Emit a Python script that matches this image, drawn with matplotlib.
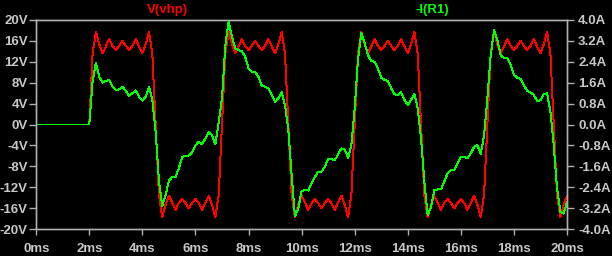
import matplotlib
matplotlib.use("Agg")
import matplotlib.pyplot as plt

# time axis in ms (simulation samples)
t_ms = [0.0,
        2.0, 2.125, 2.25, 2.375, 2.5, 2.625, 2.75, 2.875, 3.0, 3.125,
        3.25, 3.375, 3.5, 3.625, 3.75, 3.875, 4.0, 4.125, 4.25, 4.375,
        4.5, 4.625, 4.75, 4.875, 5.0, 5.125, 5.25, 5.375, 5.5, 5.625,
        5.75, 5.875, 6.0, 6.125, 6.25, 6.375, 6.5, 6.625, 6.75, 6.875,
        7.0, 7.125, 7.25, 7.375, 7.5, 7.625, 7.75, 7.875, 8.0, 8.125,
        8.25, 8.375, 8.5, 8.625, 8.75, 8.875, 9.0, 9.125, 9.25, 9.375,
        9.5, 9.625, 9.75, 9.875, 10.0, 10.125, 10.25, 10.375, 10.5, 10.625,
        10.75, 10.875, 11.0, 11.125, 11.25, 11.375, 11.5, 11.625, 11.75, 11.875,
        12.0, 12.125, 12.25, 12.375, 12.5, 12.625, 12.75, 12.875, 13.0, 13.125,
        13.25, 13.375, 13.5, 13.625, 13.75, 13.875, 14.0, 14.125, 14.25, 14.375,
        14.5, 14.625, 14.75, 14.875, 15.0, 15.125, 15.25, 15.375, 15.5, 15.625,
        15.75, 15.875, 16.0, 16.125, 16.25, 16.375, 16.5, 16.625, 16.75, 16.875,
        17.0, 17.125, 17.25, 17.375, 17.5, 17.625, 17.75, 17.875, 18.0, 18.125,
        18.25, 18.375, 18.5, 18.625, 18.75, 18.875, 19.0, 19.125, 19.25, 19.375,
        19.5, 19.625, 19.75, 19.875, 20.0]

# V(vhp) in volts
v_vhp = [0.0,
         0.0, 13.5, 17.7, 15.3, 13.6, 14.9, 16.3, 15.0, 14.2, 15.0,
         16.0, 15.0, 14.2, 15.0, 16.3, 14.9, 13.6, 15.3, 17.7, 13.5,
         0.0, -13.5, -17.7, -15.3, -13.6, -14.9, -16.3, -15.0, -14.2, -15.0,
         -16.0, -15.0, -14.2, -15.0, -16.3, -14.9, -13.6, -15.3, -17.7, -13.5,
         0.0, 13.5, 17.7, 15.3, 13.6, 14.9, 16.3, 15.0, 14.2, 15.0,
         16.0, 15.0, 14.2, 15.0, 16.3, 14.9, 13.6, 15.3, 17.7, 13.5,
         0.0, -13.5, -17.7, -15.3, -13.6, -14.9, -16.3, -15.0, -14.2, -15.0,
         -16.0, -15.0, -14.2, -15.0, -16.3, -14.9, -13.6, -15.3, -17.7, -13.5,
         0.0, 13.5, 17.7, 15.3, 13.6, 14.9, 16.3, 15.0, 14.2, 15.0,
         16.0, 15.0, 14.2, 15.0, 16.3, 14.9, 13.6, 15.3, 17.7, 13.5,
         0.0, -13.5, -17.7, -15.3, -13.6, -14.9, -16.3, -15.0, -14.2, -15.0,
         -16.0, -15.0, -14.2, -15.0, -16.3, -14.9, -13.6, -15.3, -17.7, -13.5,
         0.0, 13.5, 17.7, 15.3, 13.6, 14.9, 16.3, 15.0, 14.2, 15.0,
         16.0, 15.0, 14.2, 15.0, 16.3, 14.9, 13.6, 15.3, 17.7, 13.5,
         0.0, -13.5, -17.7, -15.3, -13.6]

# -I(R1) in amps
i_r1 = [0.0,
        0.0, 1.64, 2.36, 1.82, 1.60, 1.66, 1.70, 1.44, 1.32, 1.34,
        1.44, 1.28, 1.10, 1.19, 1.30, 1.06, 0.91, 1.06, 1.44, 0.94,
        -0.28, -2.18, -3.10, -2.70, -2.15, -2.00, -2.00, -1.67, -1.24, -1.20,
        -1.18, -1.07, -0.80, -0.66, -0.76, -0.53, -0.30, -0.40, -0.76, 0.06,
        1.00, 3.00, 3.94, 3.35, 2.90, 2.84, 2.80, 2.58, 2.14, 2.02,
        2.00, 1.82, 1.48, 1.44, 1.38, 1.13, 0.87, 1.00, 1.23, 0.74,
        -0.20, -1.93, -3.50, -3.20, -2.54, -2.50, -2.52, -2.24, -2.00, -1.80,
        -1.80, -1.61, -1.32, -1.32, -1.36, -1.14, -0.91, -0.95, -1.27, -0.80,
        0.62, 2.50, 3.48, 3.10, 2.65, 2.42, 2.40, 2.14, 1.79, 1.70,
        1.66, 1.38, 1.16, 1.12, 1.23, 0.94, 0.74, 0.94, 1.18, 0.62,
        -0.53, -2.18, -3.45, -3.15, -2.50, -2.48, -2.48, -2.18, -1.86, -1.74,
        -1.74, -1.48, -1.23, -1.23, -1.29, -1.10, -0.85, -0.78, -1.14, -0.40,
        1.00, 2.65, 3.60, 3.22, 2.65, 2.53, 2.53, 2.27, 1.89, 1.79,
        1.74, 1.50, 1.28, 1.23, 1.13, 0.90, 0.92, 1.15, 1.19, 0.49,
        -0.78, -2.43, -3.33, -3.40, -2.95]

v_ticks = [20, 16, 12, 8, 4, 0, -4, -8, -12, -16, -20]
v_labels = ['20V', '16V', '12V', '8V', '4V', '0V', '-4V', '-8V', '-12V', '-16V', '-20V']
i_ticks = [4.0, 3.2, 2.4, 1.6, 0.8, 0.0, -0.8, -1.6, -2.4, -3.2, -4.0]
i_labels = ['4.0A', '3.2A', '2.4A', '1.6A', '0.8A', '0.0A', '-0.8A', '-1.6A', '-2.4A', '-3.2A', '-4.0A']
t_ticks = [0, 2, 4, 6, 8, 10, 12, 14, 16, 18, 20]
t_labels = ['0ms', '2ms', '4ms', '6ms', '8ms', '10ms', '12ms', '14ms', '16ms', '18ms', '20ms']

W, H = 612, 256
txt = '#c8c8c8'
frame = '#b0b0b0'
font = dict(family='Liberation Sans', size=9.5, weight='bold')

fig = plt.figure(figsize=(W / 100, H / 100), dpi=100, facecolor='black')
ax = fig.add_axes([36.2 / W, 1 - 229.3 / H, (567 - 36.2) / W, (229.3 - 19.7) / H])
ax.set_facecolor('black')
ax2 = ax.twinx()

# 1px non-antialiased traces, like the simulator's waveform viewer
ax.plot(t_ms, v_vhp, color='#ff0000', lw=0.72, antialiased=False)
ax2.plot(t_ms, i_r1, color='#00ff00', lw=0.72, antialiased=False)

ax.set_xlim(0, 20)
ax.set_ylim(-20, 20)
ax2.set_ylim(-4, 4)

ax.set_xticks(t_ticks)
ax.set_xticklabels(t_labels, color=txt, **font)
ax.set_yticks(v_ticks)
ax.set_yticklabels(v_labels, color=txt, **font)
ax2.set_yticks(i_ticks)
ax2.set_yticklabels(i_labels, color=txt, **font)

ax.tick_params(axis='x', colors=frame, length=4, width=1, pad=6, labelcolor=txt)
ax.tick_params(axis='y', colors=frame, length=5, width=1, pad=1, labelcolor=txt)
ax2.tick_params(axis='y', colors=frame, length=5, width=1, pad=3, labelcolor=txt)

for a in (ax, ax2):
    for s in a.spines.values():
        s.set_color(frame)
        s.set_linewidth(1.0)

fig.text(167 / W, 1 - 10.5 / H, 'V(vhp)', color='#ff0000', ha='center', va='center', **font)
fig.text(432 / W, 1 - 10.5 / H, '-I(R1)', color='#00ff00', ha='center', va='center', **font)

fig.savefig('out.png', dpi=100, facecolor='black')
